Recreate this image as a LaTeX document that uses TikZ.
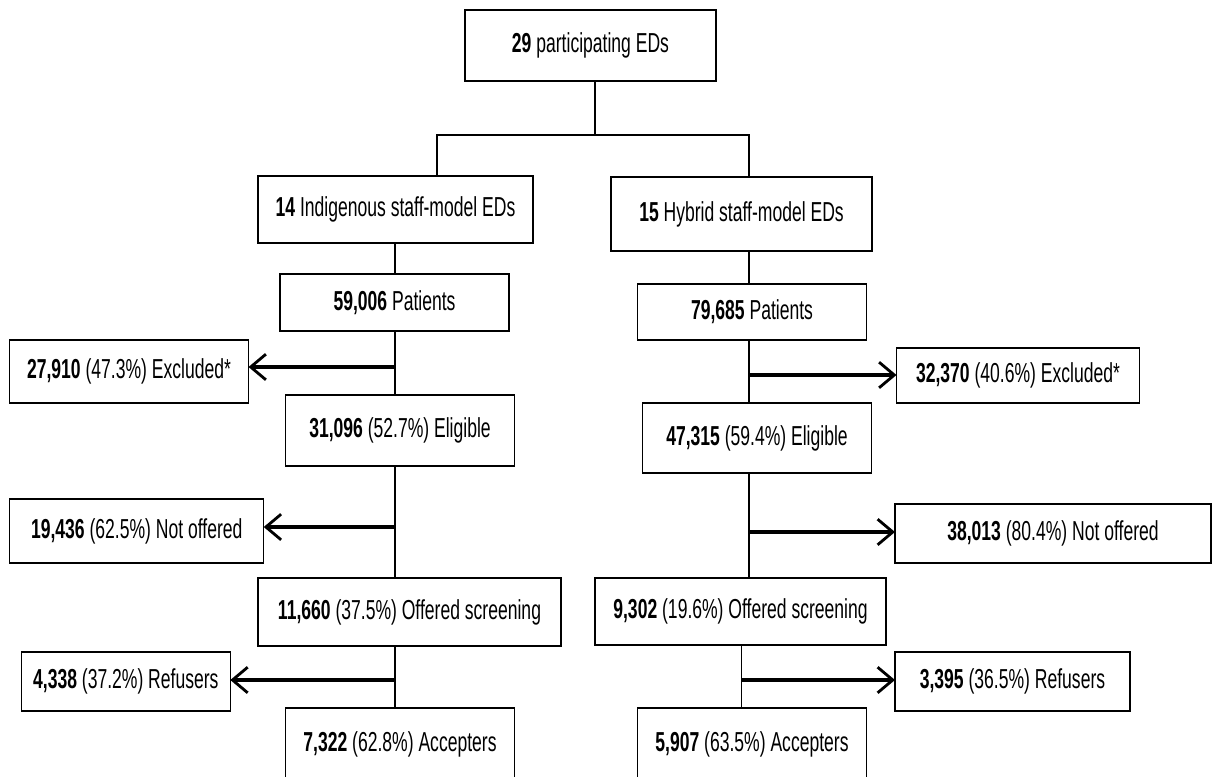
\documentclass[tikz,border=0pt]{standalone}
\usepackage{fontspec}
\setmainfont[FakeStretch=0.64]{Liberation Sans}
\usetikzlibrary{arrows.meta}

\begin{document}
\begin{tikzpicture}[x=0.025cm, y=-0.025cm,
	box/.style 2 args={draw, line width=1pt, inner sep=0pt, outer sep=0pt,
		minimum width=#1*0.025cm, minimum height=#2*0.025cm,
		font=\fontsize{19.5}{22}\selectfont},
	link/.style={line width=1pt},
	flow/.style={line width=2.2pt, -{Straight Barb[length=0.38cm, width=0.64cm, line width=2pt]}}]

\useasboundingbox (0,0) rectangle (1213,777);

%Kästen
\node[box={251}{71}]	(top)		at (590.5,45.5)	{\textbf{29} participating EDs};
\node[box={275}{67}]	(indig)		at (395.5,209.5)	{\textbf{14} Indigenous staff-model EDs};
\node[box={261}{74}]	(hybrid)	at (741.5,214)	{\textbf{15} Hybrid staff-model EDs};
\node[box={229}{57}]	(patL)		at (394.5,302.5)	{\textbf{59,006} Patients};
\node[box={229}{56}]	(patR)		at (752,312)		{\textbf{79,685} Patients};
\node[box={239}{63}]	(exclL)		at (129,371.5)	{\textbf{27,910} (47.3\%) Excluded*};
\node[box={243}{55}]	(exclR)		at (1018,375.5)	{\textbf{32,370} (40.6\%) Excluded*};
\node[box={229}{71}]	(eligL)		at (400,430.5)	{\textbf{31,096} (52.7\%) Eligible};
\node[box={229}{70}]	(eligR)		at (757,438)		{\textbf{47,315} (59.4\%) Eligible};
\node[box={254}{64}]	(notL)		at (136.7,531)	{\textbf{19,436} (62.5\%) Not offered};
\node[box={316}{59}]	(notR)		at (1053,533.5)	{\textbf{38,013} (80.4\%) Not offered};
\node[box={303}{68}]	(offL)		at (409.5,612)	{\textbf{11,660} (37.5\%) Offered screening};
\node[box={291}{67}]	(offR)		at (740.5,611.5)	{\textbf{9,302} (19.6\%) Offered screening};
\node[box={209}{59}]	(refL)		at (125.8,681.5)	{\textbf{4,338} (37.2\%) Refusers};
\node[box={235}{59}]	(refR)		at (1012.5,681.5)	{\textbf{3,395} (36.5\%) Refusers};
\node[box={229}{72}]	(accL)		at (400,744)		{\textbf{7,322} (62.8\%) Accepters};
\node[box={229}{72}]	(accR)		at (752,744)		{\textbf{5,907} (63.5\%) Accepters};

%Verzweigungen
\coordinate (splitT)	at (595,135);
\coordinate (dropL)		at (437,135);
\coordinate (dropR)		at (749,135);
\coordinate (jExclL)	at (395,367);
\coordinate (jNotL)		at (395,527);
\coordinate (jRefL)		at (395,680);
\coordinate (jExclR)	at (749,375);
\coordinate (jNotR)		at (749,532);
\coordinate (jRefR)		at (741.5,680);

%Linien
\draw[link]	(splitT |- top.south) -- (splitT);
\draw[link]	(dropL |- indig.north) -- (dropL) -- (dropR) -- (dropR |- hybrid.north);

\draw[link]	(jExclL |- indig.south) -- (jExclL |- patL.north);
\draw[link]	(jExclL |- patL.south) -- (jExclL |- eligL.north);
\draw[link]	(jNotL |- eligL.south) -- (jNotL |- offL.north);
\draw[link]	(jRefL |- offL.south) -- (jRefL |- accL.north);

\draw[link]	(jExclR |- hybrid.south) -- (jExclR |- patR.north);
\draw[link]	(jExclR |- patR.south) -- (jExclR |- eligR.north);
\draw[link]	(jNotR |- eligR.south) -- (jNotR |- offR.north);
\draw[link]	(jRefR |- offR.south) -- (jRefR |- accR.north);

%Pfeile
\draw[flow]	(jExclL) -- (jExclL -| exclL.east);
\draw[flow]	(jNotL) -- (jNotL -| notL.east);
\draw[flow]	(jRefL) -- (jRefL -| refL.east);
\draw[flow]	(jExclR) -- (jExclR -| exclR.west);
\draw[flow]	(jNotR) -- (jNotR -| notR.west);
\draw[flow]	(jRefR) -- (jRefR -| refR.west);

\end{tikzpicture}
\end{document}
